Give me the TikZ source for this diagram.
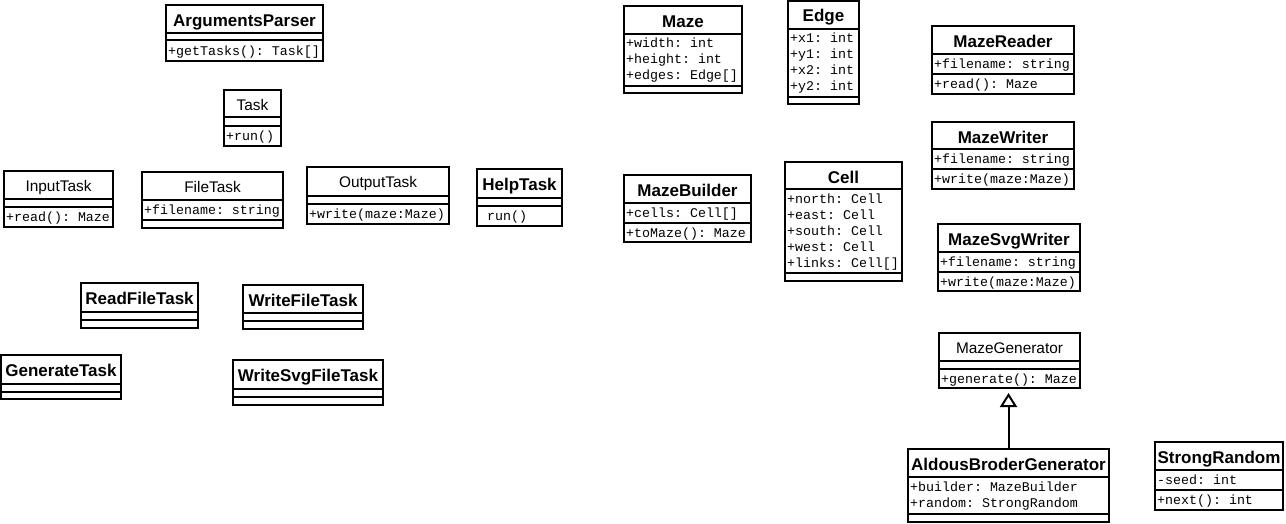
\documentclass[tikz,border=0pt]{standalone}
\usepackage{fontspec}
\setmainfont{Liberation Sans}
\setmonofont{Liberation Mono}
\usetikzlibrary{arrows.meta}

\begin{document}
	\begin{tikzpicture}[x=1pt, y=-1pt,
		classbox/.style={draw, line width=2pt, anchor=north west, inner sep=0pt, outer sep=0pt},
		separator/.style={line width=2pt},
		classname/.style={anchor=base, inner sep=0pt, font=\bfseries\fontsize{17}{20}\selectfont},
		abstractname/.style={anchor=base, inner sep=0pt, font=\fontsize{15.4}{18}\selectfont},
		member/.style={anchor=base west, inner sep=0pt, font=\ttfamily\frenchspacing\fontsize{13.3}{16}\selectfont},
		generalization/.style={line width=2pt, -{Triangle[open, width=17pt, length=14pt]}, shorten >=5pt}]
		\fill [white, use as bounding box] ( 0, 0 ) rectangle ( 1286, 523 );

		% класс ArgumentsParser
		\node [classbox, minimum width=157pt, minimum height=56pt] (argumentsparser) at ( 166, 5 ) {};
		\draw [separator] ( 166, 33 ) -- ( 323, 33 );
		\draw [separator] ( 166, 40 ) -- ( 323, 40 );
		\node [classname] (argumentsparser-name) at ( 244.5, 26 ) {ArgumentsParser};
		\node [member] (argumentsparser-m1) at ( 168, 55 ) {+getTasks(): Task[]};

		% класс Task
		\node [classbox, minimum width=57pt, minimum height=56pt] (task) at ( 224, 90 ) {};
		\draw [separator] ( 224, 117 ) -- ( 281, 117 );
		\draw [separator] ( 224, 126 ) -- ( 281, 126 );
		\node [abstractname] (task-name) at ( 252.5, 110 ) {Task};
		\node [member] (task-m1) at ( 226, 140 ) {+run()};

		% класс InputTask
		\node [classbox, minimum width=109pt, minimum height=56pt] (inputtask) at ( 4, 171 ) {};
		\draw [separator] ( 4, 199 ) -- ( 113, 199 );
		\draw [separator] ( 4, 207 ) -- ( 113, 207 );
		\node [abstractname] (inputtask-name) at ( 58.5, 191 ) {InputTask};
		\node [member] (inputtask-m1) at ( 6, 221 ) {+read(): Maze};

		% класс FileTask
		\node [classbox, minimum width=141pt, minimum height=56pt] (filetask) at ( 142, 172 ) {};
		\draw [separator] ( 142, 200 ) -- ( 283, 200 );
		\draw [separator] ( 142, 220 ) -- ( 283, 220 );
		\node [abstractname] (filetask-name) at ( 212.5, 192 ) {FileTask};
		\node [member] (filetask-a1) at ( 144, 214 ) {+filename: string};

		% класс OutputTask
		\node [classbox, minimum width=142pt, minimum height=57pt] (outputtask) at ( 307, 167 ) {};
		\draw [separator] ( 307, 196 ) -- ( 449, 196 );
		\draw [separator] ( 307, 204 ) -- ( 449, 204 );
		\node [abstractname] (outputtask-name) at ( 378, 187 ) {OutputTask};
		\node [member] (outputtask-m1) at ( 309, 218 ) {+write(maze:Maze)};

		% класс HelpTask
		\node [classbox, minimum width=85pt, minimum height=57pt] (helptask) at ( 477, 169 ) {};
		\draw [separator] ( 477, 198 ) -- ( 562, 198 );
		\draw [separator] ( 477, 206 ) -- ( 562, 206 );
		\node [classname] (helptask-name) at ( 519.5, 190 ) {HelpTask};
		\node [member] (helptask-m1) at ( 479, 220 ) {\ run()};

		% класс ReadFileTask
		\node [classbox, minimum width=117pt, minimum height=45pt] (readfiletask) at ( 81, 283 ) {};
		\draw [separator] ( 81, 312 ) -- ( 198, 312 );
		\draw [separator] ( 81, 320 ) -- ( 198, 320 );
		\node [classname] (readfiletask-name) at ( 139.5, 304 ) {ReadFileTask};

		% класс WriteFileTask
		\node [classbox, minimum width=120pt, minimum height=44pt] (writefiletask) at ( 243, 285 ) {};
		\draw [separator] ( 243, 313 ) -- ( 363, 313 );
		\draw [separator] ( 243, 321 ) -- ( 363, 321 );
		\node [classname] (writefiletask-name) at ( 303, 306 ) {WriteFileTask};

		% класс GenerateTask
		\node [classbox, minimum width=120pt, minimum height=44pt] (generatetask) at ( 1, 355 ) {};
		\draw [separator] ( 1, 384 ) -- ( 121, 384 );
		\draw [separator] ( 1, 392 ) -- ( 121, 392 );
		\node [classname] (generatetask-name) at ( 61, 376 ) {GenerateTask};

		% класс WriteSvgFileTask
		\node [classbox, minimum width=150pt, minimum height=45pt] (writesvgfiletask) at ( 233, 360 ) {};
		\draw [separator] ( 233, 389 ) -- ( 383, 389 );
		\draw [separator] ( 233, 397 ) -- ( 383, 397 );
		\node [classname] (writesvgfiletask-name) at ( 308, 381 ) {WriteSvgFileTask};

		% класс Maze
		\node [classbox, minimum width=118pt, minimum height=87pt] (maze) at ( 624, 6 ) {};
		\draw [separator] ( 624, 34 ) -- ( 742, 34 );
		\draw [separator] ( 624, 86 ) -- ( 742, 86 );
		\node [classname] (maze-name) at ( 683, 27 ) {Maze};
		\node [member] (maze-a1) at ( 626, 47 ) {+width: int};
		\node [member] (maze-a2) at ( 626, 63 ) {+height: int};
		\node [member] (maze-a3) at ( 626, 79 ) {+edges: Edge[]};

		% класс Edge
		\node [classbox, minimum width=71pt, minimum height=103pt] (edge) at ( 788, 1 ) {};
		\draw [separator] ( 788, 29 ) -- ( 859, 29 );
		\draw [separator] ( 788, 97 ) -- ( 859, 97 );
		\node [classname] (edge-name) at ( 823.5, 21 ) {Edge};
		\node [member] (edge-a1) at ( 790, 42 ) {+x1: int};
		\node [member] (edge-a2) at ( 790, 58 ) {+y1: int};
		\node [member] (edge-a3) at ( 790, 74 ) {+x2: int};
		\node [member] (edge-a4) at ( 790, 90 ) {+y2: int};

		% класс MazeReader
		\node [classbox, minimum width=142pt, minimum height=68pt] (mazereader) at ( 932, 26 ) {};
		\draw [separator] ( 932, 54 ) -- ( 1074, 54 );
		\draw [separator] ( 932, 74 ) -- ( 1074, 74 );
		\node [classname] (mazereader-name) at ( 1003, 47 ) {MazeReader};
		\node [member] (mazereader-a1) at ( 934, 68 ) {+filename: string};
		\node [member] (mazereader-m1) at ( 934, 88 ) {+read(): Maze};

		% класс MazeWriter
		\node [classbox, minimum width=142pt, minimum height=67pt] (mazewriter) at ( 932, 122 ) {};
		\draw [separator] ( 932, 149 ) -- ( 1074, 149 );
		\draw [separator] ( 932, 169 ) -- ( 1074, 169 );
		\node [classname] (mazewriter-name) at ( 1003, 143 ) {MazeWriter};
		\node [member] (mazewriter-a1) at ( 934, 163 ) {+filename: string};
		\node [member] (mazewriter-m1) at ( 934, 183 ) {+write(maze:Maze)};

		% класс MazeBuilder
		\node [classbox, minimum width=127pt, minimum height=67pt] (mazebuilder) at ( 624, 175 ) {};
		\draw [separator] ( 624, 203 ) -- ( 751, 203 );
		\draw [separator] ( 624, 223 ) -- ( 751, 223 );
		\node [classname] (mazebuilder-name) at ( 687.5, 196 ) {MazeBuilder};
		\node [member] (mazebuilder-a1) at ( 626, 217 ) {+cells: Cell[]};
		\node [member] (mazebuilder-m1) at ( 626, 237 ) {+toMaze(): Maze};

		% класс Cell
		\node [classbox, minimum width=117pt, minimum height=119pt] (cell) at ( 785, 162 ) {};
		\draw [separator] ( 785, 189 ) -- ( 902, 189 );
		\draw [separator] ( 785, 273 ) -- ( 902, 273 );
		\node [classname] (cell-name) at ( 843.5, 183 ) {Cell};
		\node [member] (cell-a1) at ( 787, 203 ) {+north: Cell};
		\node [member] (cell-a2) at ( 787, 219 ) {+east: Cell};
		\node [member] (cell-a3) at ( 787, 235 ) {+south: Cell};
		\node [member] (cell-a4) at ( 787, 251 ) {+west: Cell};
		\node [member] (cell-a5) at ( 787, 267 ) {+links: Cell[]};

		% класс MazeSvgWriter
		\node [classbox, minimum width=142pt, minimum height=67pt] (mazesvgwriter) at ( 938, 224 ) {};
		\draw [separator] ( 938, 252 ) -- ( 1080, 252 );
		\draw [separator] ( 938, 272 ) -- ( 1080, 272 );
		\node [classname] (mazesvgwriter-name) at ( 1009, 245 ) {MazeSvgWriter};
		\node [member] (mazesvgwriter-a1) at ( 940, 266 ) {+filename: string};
		\node [member] (mazesvgwriter-m1) at ( 940, 286 ) {+write(maze:Maze)};

		% класс MazeGenerator
		\node [classbox, minimum width=141pt, minimum height=55pt] (mazegenerator) at ( 939, 333 ) {};
		\draw [separator] ( 939, 361 ) -- ( 1080, 361 );
		\draw [separator] ( 939, 369 ) -- ( 1080, 369 );
		\node [abstractname] (mazegenerator-name) at ( 1009.5, 353 ) {MazeGenerator};
		\node [member] (mazegenerator-m1) at ( 941, 383 ) {+generate(): Maze};

		% класс AldousBroderGenerator
		\node [classbox, minimum width=201pt, minimum height=73pt] (aldousbrodergenerator) at ( 908, 449 ) {};
		\draw [separator] ( 908, 477 ) -- ( 1109, 477 );
		\draw [separator] ( 908, 514 ) -- ( 1109, 514 );
		\node [classname] (aldousbrodergenerator-name) at ( 1008.5, 470 ) {AldousBroderGenerator};
		\node [member] (aldousbrodergenerator-a1) at ( 910, 491 ) {+builder: MazeBuilder};
		\node [member] (aldousbrodergenerator-a2) at ( 910, 507 ) {+random: StrongRandom};

		% класс StrongRandom
		\node [classbox, minimum width=128pt, minimum height=68pt] (strongrandom) at ( 1155, 442 ) {};
		\draw [separator] ( 1155, 470 ) -- ( 1283, 470 );
		\draw [separator] ( 1155, 490 ) -- ( 1283, 490 );
		\node [classname] (strongrandom-name) at ( 1219, 463 ) {StrongRandom};
		\node [member] (strongrandom-a1) at ( 1157, 484 ) {-seed: int};
		\node [member] (strongrandom-m1) at ( 1157, 504 ) {+next(): int};

		% наследование
		\draw [generalization] (aldousbrodergenerator.north) -- (aldousbrodergenerator.north |- mazegenerator.south);
	\end{tikzpicture}
\end{document}
